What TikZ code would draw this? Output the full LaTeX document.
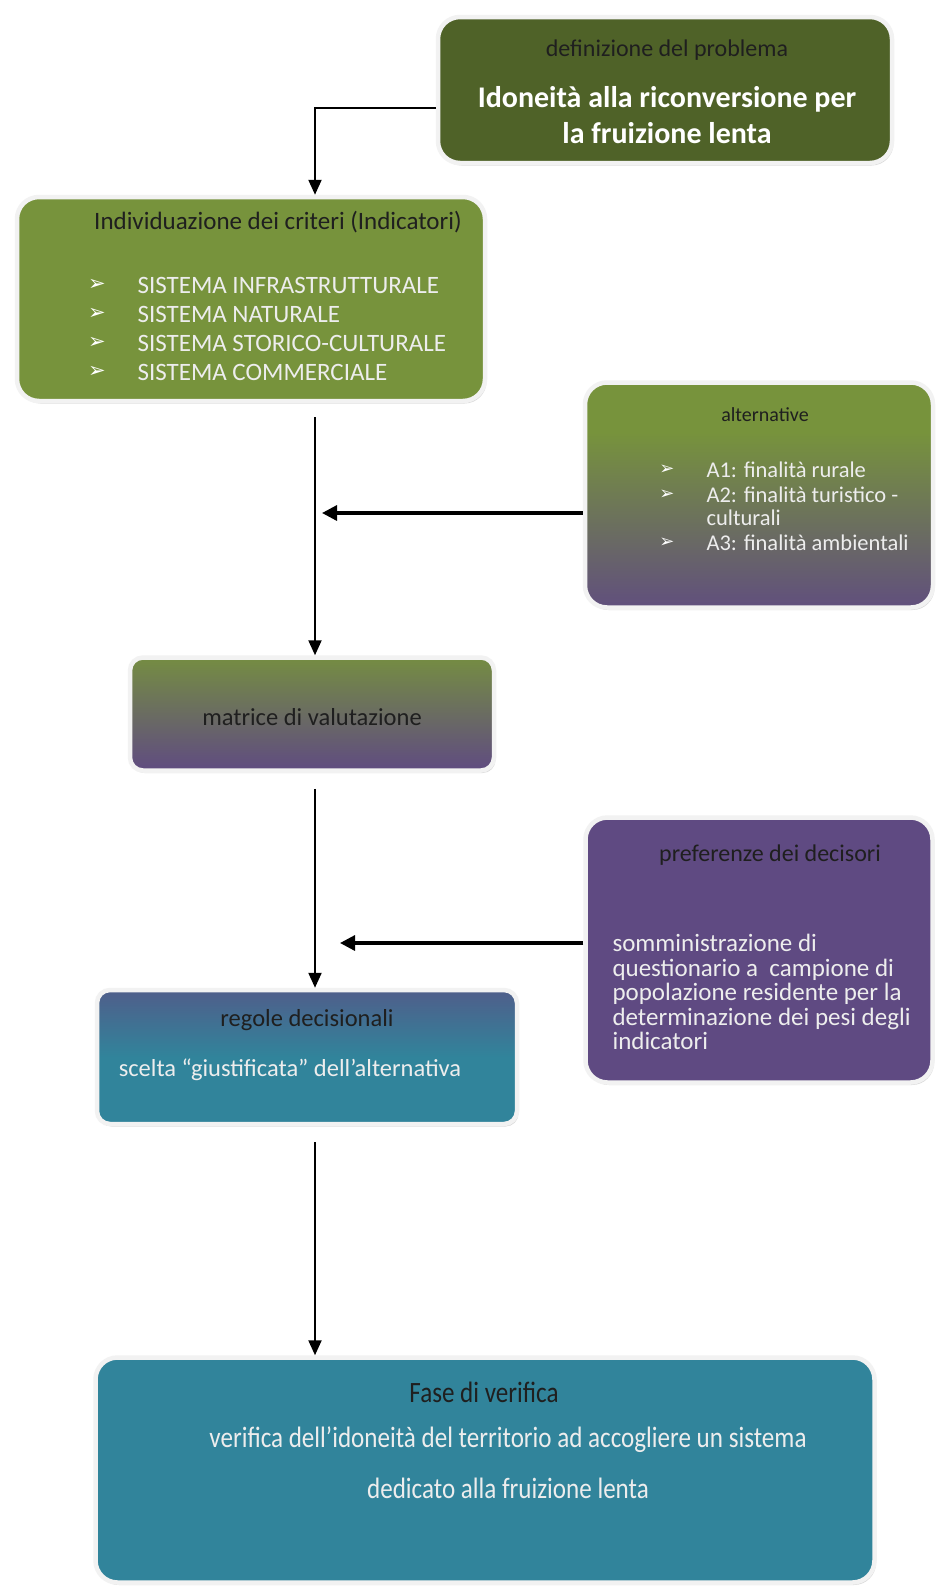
\documentclass[tikz,border=0pt]{standalone}
\usepackage{fontspec}
\setmainfont{Carlito}
\newfontfamily\symfont{DejaVu Sans}
\newfontfamily\narrowfont[FakeStretch=0.85]{Carlito}
\usetikzlibrary{arrows.meta,positioning,shadows}
\definecolor{probgreen}{HTML}{4F6228}
\definecolor{critgreen}{HTML}{77933C}
\definecolor{prefpurple}{HTML}{5F4A82}
\definecolor{verteal}{HTML}{31849B}
\pgfdeclareverticalshading{altshade}{100bp}{color(0bp)=(prefpurple); color(22bp)=(prefpurple); color(64bp)=(critgreen); color(100bp)=(critgreen)}
\pgfdeclareverticalshading{matshade}{100bp}{color(0bp)=(prefpurple); color(24bp)=(prefpurple); color(80bp)=(critgreen); color(100bp)=(critgreen)}
\pgfdeclareverticalshading{regshade}{100bp}{color(0bp)=(verteal); color(50bp)=(verteal); color(88bp)=(prefpurple); color(100bp)=(prefpurple)}
\tikzset{
box/.style={rounded corners=22pt,draw=black!5,line width=4.5pt,drop shadow={shadow xshift=1.5pt,shadow yshift=-2.5pt,opacity=.3}},
head/.style={text=black!88,font=\fontsize{24}{28}\selectfont},
body/.style={text=white!93!black,font=\fontsize{25}{29}\selectfont,align=left},
bul/.style={text=white,font=\symfont\fontsize{21}{24}\selectfont},
flow/.style={-{Triangle[length=15pt,width=13pt]},line width=2.2pt},
side/.style={-{Triangle[length=15pt,width=15pt]},line width=3.2pt}
}
\begin{document}
\begin{tikzpicture}[x=1pt,y=-1pt]
\useasboundingbox[fill=white](0,0) rectangle (935,1591);
% boxes
\node[box,fill=probgreen,minimum width=454pt,minimum height=146pt](def) at (665,90){};
\node[box,fill=critgreen,minimum width=468pt,minimum height=204pt](crit) at (251,299){};
\node[box,shading=altshade,minimum width=348pt,minimum height=225pt](alt) at (759,495){};
\node[box,shading=matshade,rounded corners=13pt,minimum width=364pt,minimum height=113pt](mat) at (312,714){};
\node[box,fill=prefpurple,minimum width=347pt,minimum height=265pt](pref) at (759,950){};
\node[box,shading=regshade,rounded corners=13pt,minimum width=420pt,minimum height=134pt](reg) at (307,1057){};
\node[box,fill=verteal,minimum width=779pt,minimum height=225pt](fase) at (485,1470){};
% texts
\node[head](defh) at (667,50){definizione del problema};
\node[body,align=center,text=white,font=\bfseries\fontsize{30}{36}\selectfont](defb) at (667,115){Idoneità alla riconversione per\\la fruizione lenta};
\node[head,font=\fontsize{25}{28}\selectfont](crith) at (278,222){Individuazione dei criteri (Indicatori)};
\foreach \t [count=\i] in {SISTEMA INFRASTRUTTURALE,SISTEMA NATURALE,SISTEMA STORICO-CULTURALE,SISTEMA COMMERCIALE}{
  \node[bul](cb\i) at (97,256+29*\i){➢};
  \node[body,anchor=west](ct\i) at (134,256+29*\i){\t};
}
\node[head,font=\fontsize{20}{24}\selectfont](alth) at (765,415){alternative};
\foreach \y/\t [count=\i] in {470/A1: finalità rurale,495/A2: finalità turistico -,543/A3: finalità ambientali}{
  \node[bul,font=\symfont\fontsize{18}{24}\selectfont](ab\i) at (667,\y){➢};
  \node[body,anchor=west,font=\fontsize{22.5}{24}\selectfont](at\i) at (703,\y){\t};
}
\node[body,anchor=west,font=\fontsize{22.5}{24}\selectfont](at4) at (703,518){culturali};
\node[head,font=\fontsize{24.5}{28}\selectfont](math) at (312,717){matrice di valutazione};
\node[head](prefh) at (770,855){preferenze dei decisori};
\node[body,anchor=north west,font=\fontsize{25}{24.5}\selectfont](prefb) at (609,931){somministrazione di\\questionario a~ campione di\\popolazione residente per la\\determinazione dei pesi degli\\indicatori};
\node[head,font=\fontsize{24.5}{28}\selectfont](regh) at (307,1020){regole decisionali};
\node[body,font=\fontsize{24.5}{28}\selectfont](regb) at (290,1070){scelta “giustificata” dell’alternativa};
\node[head,font=\narrowfont\fontsize{29.5}{32}\selectfont](faseh) at (484,1392){Fase di verifica};
\node[body,font=\narrowfont\fontsize{29.5}{32}\selectfont](faseb1) at (508,1440){verifica dell’idoneità del territorio ad accogliere un sistema};
\node[body,font=\narrowfont\fontsize{29.5}{32}\selectfont](faseb2) at (508,1488){dedicato alla fruizione lenta};
% connectors
\coordinate (c1) at (315,108);
\coordinate (c2) at (322,513);
\coordinate (c3) at (340,943);
\draw[flow](def.west |- c1)--(c1)--(c1 |- crit.north);
\draw[flow,shorten <=14pt](crit.south -| c1)--(c1 |- mat.north);
\draw[side](alt.west |- c2)--(c2);
\draw[flow,shorten <=16pt](mat.south -| c1)--(c1 |- reg.north);
\draw[side](pref.west |- c3)--(c3);
\draw[flow,shorten <=16pt](reg.south -| c1)--(c1 |- fase.north);
\end{tikzpicture}
\end{document}
